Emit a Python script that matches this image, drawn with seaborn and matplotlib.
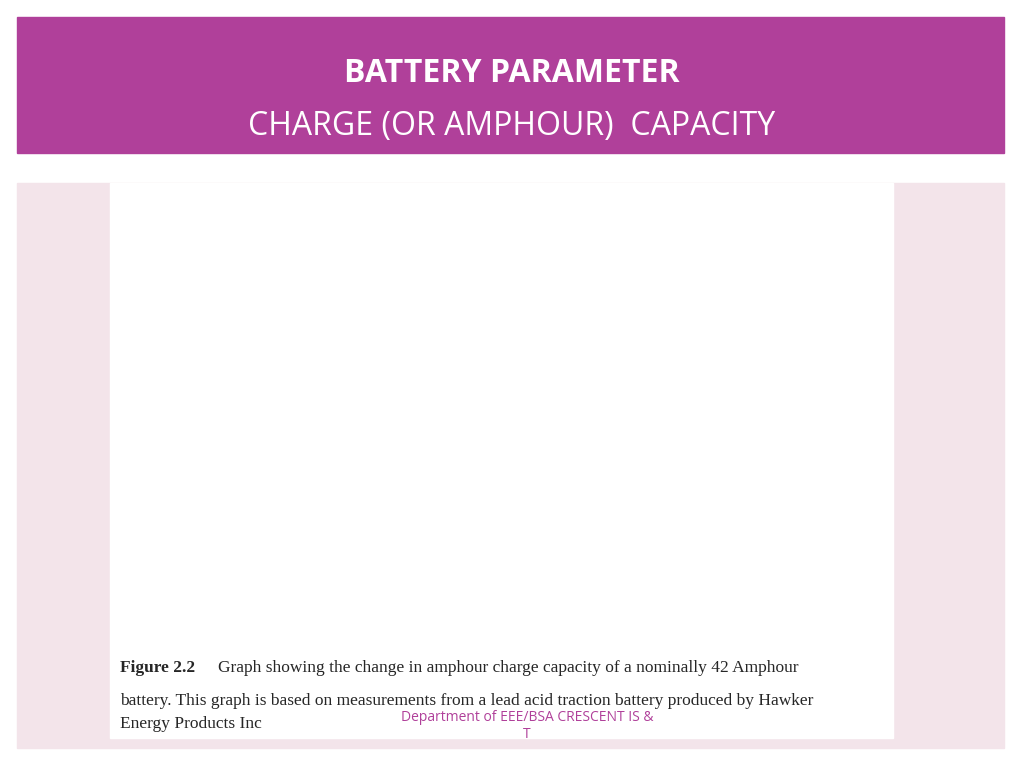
import matplotlib.pyplot as plt
import seaborn as sns
import pandas as pd

# Values
hours = [0.7, 0.9, 1.2, 1.6, 2.0, 2.5, 3.0, 4.0, 5.0, 6.0, 7.0, 8.0, 9.0, 10.0, 12.0, 14.0, 16.0, 18.0, 20.0]
capacity = [32.5, 33.7, 34.3, 35.3, 36.4, 37.1, 37.8, 38.8, 39.6, 40.1, 40.5, 40.9, 41.4, 42.0, 42.8, 43.6, 44.4, 45.2, 46.0]
x_ticks = list(range(0, 21, 2))
y_ticks = list(range(32, 47, 2))

df = pd.DataFrame({'hours': hours, 'capacity': capacity})

sns.set_style('ticks')
plt.rcParams['font.family'] = ['Open Sans', 'DejaVu Sans']

W, H = 1024, 768
fig = plt.figure(figsize=(W / 100, H / 100), dpi=100)
fig.patch.set_facecolor('white')

def box(x0, y0, x1, y1, color):
    fig.patches.append(plt.Rectangle((x0 / W, 1 - y1 / H), (x1 - x0) / W, (y1 - y0) / H,
                                     transform=fig.transFigure, color=color, zorder=0))

# slide decoration
box(17, 17, 1004, 153, '#B0409A')
box(17, 183, 1004, 748, '#F3E4EA')
box(110, 183, 893, 738, 'white')

fig.text(512 / W, 1 - 73 / H, 'BATTERY PARAMETER', ha='center', va='center',
         color='white', fontsize=23, fontweight='bold')
fig.text(512 / W, 1 - 127 / H, 'CHARGE (OR AMPHOUR)  CAPACITY', ha='center', va='center',
         color='white', fontsize=23)

ax = fig.add_axes([265 / W, 1 - 613 / H, (762 - 265) / W, (613 - 217) / H])
sns.lineplot(data=df, x='hours', y='capacity', ax=ax, color='black', linewidth=1.2)
ax.set_xlim(0, 20)
ax.set_ylim(32, 46)
ax.set_xticks(x_ticks)
ax.set_yticks(y_ticks)
ax.tick_params(direction='in', top=True, right=True, labelsize=11)
for lab in ax.get_xticklabels() + ax.get_yticklabels():
    lab.set_family('Liberation Sans')
for s in ax.spines.values():
    s.set_linewidth(0.8)
ax.set_xlabel('Discharge time / hours', fontsize=11, family='Liberation Sans')
ax.set_ylabel('Capacity/Amphours', fontsize=11, family='Liberation Sans')
ax.set_title('Graph showing change in battery capacity with discharge time',
             fontsize=11, family='Liberation Sans', pad=8)

cap_lines = ['Graph showing the change in amphour charge capacity of a nominally 42 Amphour',
             'battery. This graph is based on measurements from a lead acid traction battery produced by Hawker',
             'Energy Products Inc']
fig.text(120 / W, 1 - 668 / H, 'Figure 2.2', ha='left', va='center', fontsize=12.5,
         family='Liberation Serif', fontweight='bold')
fig.text(218 / W, 1 - 668 / H, cap_lines[0], ha='left', va='center', fontsize=12.5,
         family='Liberation Serif')
fig.text(120 / W, 1 - 701 / H, cap_lines[1], ha='left', va='center', fontsize=12.5,
         family='Liberation Serif')
fig.text(120 / W, 1 - 724 / H, cap_lines[2], ha='left', va='center', fontsize=12.5,
         family='Liberation Serif')

fig.text(527 / W, 1 - 726 / H, 'Department of EEE/BSA CRESCENT IS &\nT', ha='center', va='center',
         color='#B0409A', fontsize=10)

fig.savefig('out.png', dpi=100)
